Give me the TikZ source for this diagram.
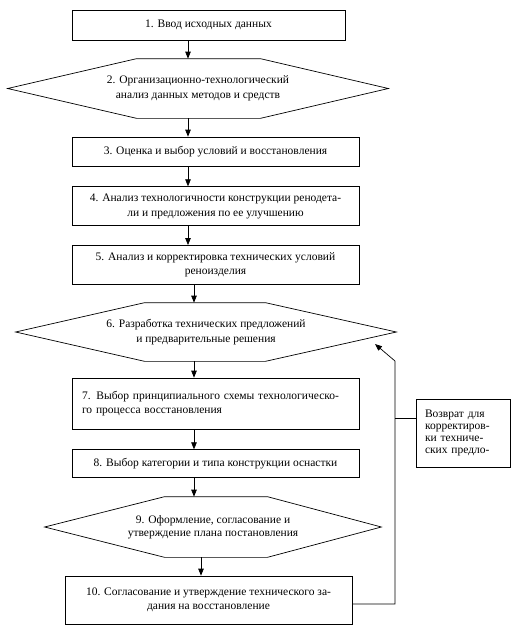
\documentclass[tikz,border=0pt]{standalone}
\usepackage{fontspec}
\setmainfont{Liberation Serif}
\usetikzlibrary{arrows.meta,positioning}

\begin{document}
\begin{tikzpicture}[x=1pt,y=-1pt,font=\fontsize{11.5}{14.5}\selectfont,
    >={Triangle[length=7pt,width=5.5pt]},line width=0.7pt,
    blk/.style={draw,minimum width=287pt,minimum height=#1,inner sep=2pt,align=center},
    hexa/.style={minimum width=380pt,minimum height=#1,inner sep=0pt,align=center}]
  \useasboundingbox (0,0) rectangle (513,630);
  % main column
  \node[blk=30pt,minimum width=273pt] (b1) at (208.5,25) {1. Ввод исходных данных};
  \node[hexa=59pt] (h2) at (198,88.5) {2. Организационно-технологический\\анализ данных методов и средств};
  \node[blk=29pt] (b3) at (215.5,151.5) {3. Оценка и выбор условий и восстановления};
  \node[blk=39pt,below=20pt of b3] (b4) {4. Анализ технологичности конструкции реноде\-та-\\ли и предложения по ее улучшению};
  \node[blk=39pt,below=19pt of b4] (b5) {5. Анализ и корректировка технических условий\\реноизделия};
  \node[hexa=58pt] (h6) at (206,332) {6. Разработка технических предложений\\и предварительные решения};
  \node[blk=51pt,align=left,text width=267pt] (b7) at (215.5,403.5) {7. Выбор принципиального схемы технологическо-\\го процесса восстановления};
  \node[blk=28pt,below=20pt of b7] (b8) {8. Выбор категории и типа конструкции оснастки};
  \node[hexa=60pt,minimum width=336pt,font=\fontsize{11.5}{12.5}\selectfont] (h9) at (213,527) {9. Оформление, согласование и\\утверждение плана постановления};
  \node[blk=48pt] (b10) at (208.5,600) {10. Согласование и утверждение технического за-\\дания на восстановление};
  % side box
  \node[draw,minimum width=94pt,minimum height=68pt,inner sep=2pt,text width=76pt,align=left,
    font=\fontsize{11.5}{12}\selectfont] (ret) at (463,433) {Возврат для\\корректиров-\\ки техниче-\\ских предло-};
  % hexagon outlines
  \foreach \n/\l/\r in {h2/129/128, h6/129/131, h9/120/114}
    \draw (\n.west) -- ([xshift=\l]\n.north west) -- ([xshift=-\r]\n.north east) -- (\n.east)
      -- ([xshift=-\r]\n.south east) -- ([xshift=\l]\n.south west) -- cycle;
  % arrows down the column
  \foreach \a/\b/\x in {b1/h2/188, h2/b3/188, b3/b4/188, b4/b5/188, b5/h6/194, h6/b7/194, b7/b8/194, b8/h9/194, h9/b10/201}
    \draw[->] (\a.south -| \x,0) -- (\b.north -| \x,0);
  % feedback loop
  \coordinate (up) at (395,361);
  \coordinate (tip) at (375,344);
  \coordinate (jn) at (395,418);
  \draw[->] ([yshift=-4pt]b10.east) -| (up) -- (tip);
  \draw (jn) -- (jn -| ret.west);
\end{tikzpicture}
\end{document}
